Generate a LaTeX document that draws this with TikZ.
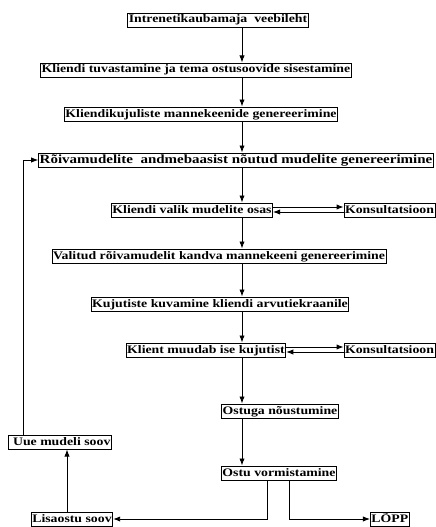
\documentclass[tikz,border=0pt]{standalone}
\usepackage{fontspec}
\setmainfont{Liberation Serif}[FakeStretch=1.2]
\usepackage{tikz}
\usetikzlibrary{
  arrows.meta,
  calc
}
\tikzset{>=Latex}
\tikzset{
  box/.style={draw,line width=0.9pt,inner xsep=1pt,inner ysep=1.5pt,
    text height=8.5pt,text depth=2.5pt,font=\bfseries\fontsize{11.5}{12}\selectfont},
  flow/.style={->,line width=0.9pt}
}

\begin{document}
\begin{tikzpicture}[x=1pt,y=-1pt]
\useasboundingbox (0,0) rectangle (436,527);
\coordinate (spine) at (242,0);
\node[box] (veeb) at (218,20) {Intrenetikaubamaja\ \ veebileht};
\node[box] (tuvast) at (196,70) {Kliendi tuvastamine ja tema ostusoovide sisestamine};
\node[box] (manne) at (201,114) {Kliendikujuliste mannekeenide genereerimine};
\node[box,font=\bfseries\fontsize{12.5}{13}\selectfont] (rmudel) at (236,160) {Rõivamudelite\ \ andmebaasist nõutud mudelite genereerimine};
\node[box] (valik) at (192,210) {Kliendi valik mudelite osas};
\node[box,anchor=east] (kons1) at (435.5,210) {Konsultatsioon};
\node[box] (kandva) at (219,256) {Valitud rõivamudelit kandva mannekeeni genereerimine};
\node[box] (kuva) at (220,304) {Kujutiste kuvamine kliendi arvutiekraanile};
\node[box] (muudab) at (206,350) {Klient muudab ise kujutist};
\node[box,anchor=east] (kons2) at (435.5,350) {Konsultatsioon};
\node[box] (nous) at (280,411) {Ostuga nõustumine};
\node[box] (vorm) at (279,473) {Ostu vormistamine};
\node[box] (uue) at (60,442) {\ Uue mudeli soov};
\node[box] (lisa) at (72,519) {Lisaostu soov};
\node[box,anchor=west] (lopp) at (370,519) {LÕPP};
\foreach \a/\b in {veeb/tuvast,tuvast/manne,manne/rmudel,rmudel/valik,valik/kandva,
  kandva/kuva,kuva/muudab,muudab/nous,nous/vorm}
  \draw[flow] (\a.south -| spine) -- (\b.north -| spine);
\draw[flow] ([yshift=3pt]valik.east) -- ([yshift=3pt]kons1.west);
\draw[flow] ([yshift=-2pt]kons1.west) -- ([yshift=-2pt]valik.east);
\draw[flow] ([yshift=3pt]muudab.east) -- ([yshift=3pt]kons2.west);
\draw[flow] ([yshift=-2pt]kons2.west) -- ([yshift=-2pt]muudab.east);
\draw[flow] ([xshift=-12pt]vorm.south) |- (lisa.east);
\draw[flow] ([xshift=10pt]vorm.south) |- (lopp.west);
\draw[flow] ([xshift=-5pt]lisa.north) -- ([xshift=-5pt]lisa.north |- uue.south);
\draw[flow] ([xshift=15pt]uue.north west) |- (rmudel.west);
\end{tikzpicture}
\end{document}
